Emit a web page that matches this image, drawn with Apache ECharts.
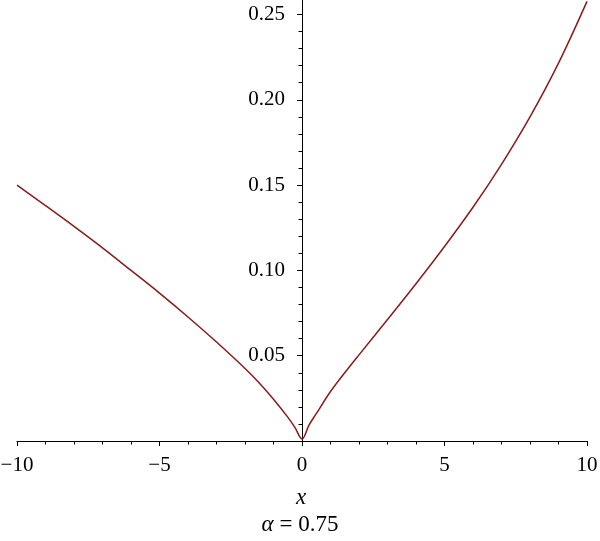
<!DOCTYPE html>
<html>
<head>
<meta charset="utf-8">
<script src="https://cdn.jsdelivr.net/npm/echarts@6/dist/echarts.min.js"></script>
<style>html,body{margin:0;padding:0;background:#fff;}#c{width:600px;height:541px;}</style>
</head>
<body>
<div id="c"></div>
<script>
// Data
const xLeft  = [-10, -9, -8, -7, -6, -5, -4, -3, -2, -1.5, -1, -0.5, -0.25, 0];
const yLeft  = [0.150, 0.138, 0.1258, 0.1132, 0.1000, 0.0867, 0.0727, 0.0580, 0.0425, 0.0340, 0.0245, 0.0140, 0.0080, 0.0012];
const xRight = [0.25, 0.5, 1, 1.5, 2, 3, 4, 5, 6, 7, 8, 9, 10];
const yRight = [0.0095, 0.0160, 0.0290, 0.0400, 0.0505, 0.0712, 0.0922, 0.1140, 0.1370, 0.1622, 0.1900, 0.2215, 0.2577];
const xTicks = [-10, -5, 0, 5, 10];
const yMajorTicks = [0.05, 0.10, 0.15, 0.20, 0.25];
const yMinorTicks = [0.01, 0.02, 0.03, 0.04, 0.06, 0.07, 0.08, 0.09, 0.11, 0.12, 0.13, 0.14,
                     0.16, 0.17, 0.18, 0.19, 0.21, 0.22, 0.23, 0.24];
const xLabel = 'x';
const alphaSymbol = '\u03b1';
const alphaText = ' = 0.75';

const data = xLeft.map((x, i) => [x, yLeft[i]]).concat(xRight.map((x, i) => [x, yRight[i]]));

const FONT = 'Liberation Serif';
const GRID_LEFT = 17;
const chart = echarts.init(document.getElementById('c'), null, {renderer: 'canvas'});
const yLabelAxis = {
  type: 'value', min: 0, max: 0.2585, interval: 0.05, position: 'left', offset: 0,
  axisLine: {show: false, onZero: false},
  axisTick: {show: false},
  splitLine: {show: false},
  axisLabel: {
    show: true, margin: 17, fontFamily: FONT, fontSize: 21, color: '#000',
    customValues: yMajorTicks,
    formatter: function (v) { return Number(v).toFixed(2); }
  }
};
chart.setOption({
  animation: false,
  grid: {left: GRID_LEFT, right: 13, top: 0, bottom: 100, containLabel: false, outerBoundsMode: 'none'},
  xAxis: [{
    type: 'value', min: -10, max: 10, interval: 5,
    axisLine: {onZero: false, lineStyle: {color: '#000', width: 1}},
    axisTick: {show: true, length: 5, lineStyle: {color: '#000'}},
    minorTick: {show: true, splitNumber: 5, length: 3.5, lineStyle: {color: '#000'}},
    splitLine: {show: false},
    axisLabel: {
      margin: 14, fontFamily: FONT, fontSize: 21, color: '#000',
      customValues: xTicks,
      formatter: v => (v < 0 ? '\u2212' + Math.abs(v) : String(v))
    }
  }, {
    type: 'value', min: -10, max: 10, interval: 5, position: 'bottom',
    axisLine: {show: false, onZero: false},
    axisTick: {show: false}, axisLabel: {show: false}, splitLine: {show: false}
  }],
  yAxis: [{
    type: 'value', min: 0, max: 0.2585, interval: 0.05, position: 'left',
    axisLine: {onZero: true, onZeroAxisIndex: 0, lineStyle: {color: '#000', width: 1}},
    axisTick: {show: true, length: 5, lineStyle: {color: '#000'}, customValues: yMajorTicks},
    minorTick: {show: false},
    splitLine: {show: false},
    axisLabel: {show: false}
  }, {
    type: 'value', min: 0, max: 0.2585, interval: 0.05, position: 'left',
    axisLine: {show: true, onZero: true, onZeroAxisIndex: 1, lineStyle: {color: '#000', width: 1}},
    axisTick: {show: true, length: 3.5, lineStyle: {color: '#000'}, customValues: yMinorTicks},
    splitLine: {show: false},
    axisLabel: {show: false}
  }, yLabelAxis],
  graphic: [
    {type: 'text', x: 301, y: 486, style: {text: xLabel, align: 'center', font: 'italic 23px "Liberation Serif"', fill: '#000'}},
    {type: 'text', x: 300, y: 513, style: {
      text: '{a|' + alphaSymbol + '}{b|' + alphaText + '}', align: 'center',
      rich: {a: {fontFamily: FONT, fontStyle: 'italic', fontSize: 23, color: '#000'}, b: {fontFamily: FONT, fontSize: 23, color: '#000'}}
    }}
  ],
  series: [{
    type: 'line', xAxisIndex: 0, yAxisIndex: 0,
    data: data, showSymbol: false, smooth: 0.35, clip: false,
    lineStyle: {color: '#8b1a1a', width: 1.5}
  }]
});
// Put the label-only y axis at x = 0 of the x scale
const zeroPx = chart.convertToPixel({xAxisIndex: 0}, 0);
chart.setOption({yAxis: [{}, {}, {offset: -(zeroPx - GRID_LEFT)}]});
</script>
</body>
</html>
